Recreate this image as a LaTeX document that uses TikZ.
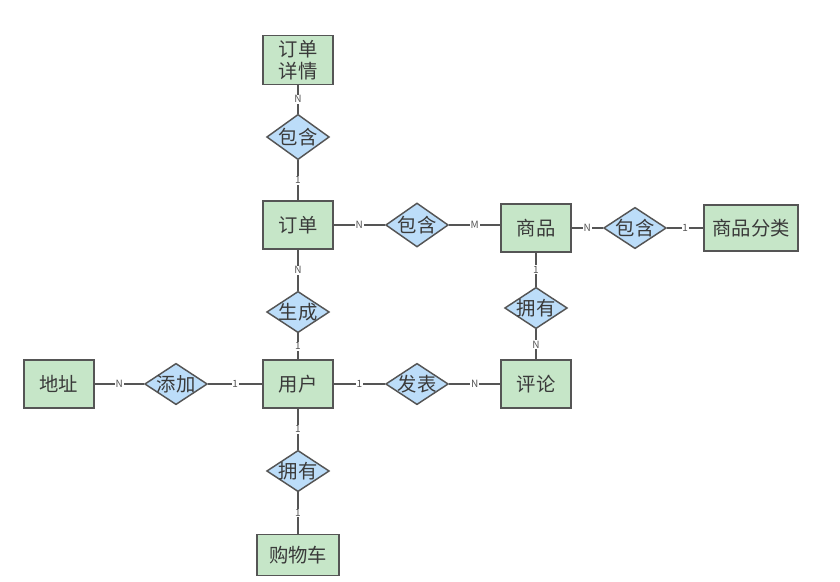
\documentclass[tikz,border=0pt]{standalone}
\usepackage{fontspec}
\setmainfont{Noto Sans CJK SC}
\usetikzlibrary{shapes.geometric}
\definecolor{entfill}{HTML}{C6E6C8}
\definecolor{relfill}{HTML}{BCDDF9}
\definecolor{edgegray}{HTML}{555555}
\definecolor{txtgray}{HTML}{3A3A3A}
\tikzset{
  entity/.style={draw=edgegray,line width=1.1pt,fill=entfill,rectangle,minimum width=52.5pt,minimum height=36pt,font=\fontsize{14.5}{16.5}\selectfont,text=txtgray,align=center},
  relation/.style={draw=edgegray,line width=1.1pt,fill=relfill,diamond,inner sep=-3pt,minimum width=47pt,minimum height=31pt,font=\fontsize{14.5}{16.5}\selectfont,text=txtgray},
  card/.style={fill=white,inner sep=0.6pt,font=\fontsize{7.5}{8}\selectfont,text=edgegray},
  link/.style={draw=edgegray,line width=1pt}
}
\begin{document}
\begin{tikzpicture}[x=0.75pt,y=-0.75pt]
        \useasboundingbox[fill=white] (0,0) rectangle (840,582);
        %% Entities
        \node[entity] (detail) at (298,60) {订单\\详情};
        \node[entity] (order) at (298,225) {订单};
        \node[entity] (goods) at (536,228) {商品};
        \node[entity,minimum width=70.5pt,minimum height=34.5pt] (category) at (751,228) {商品分类};
        \node[entity] (addr) at (59,384) {地址};
        \node[entity] (user) at (298,384) {用户};
        \node[entity] (comment) at (536,384) {评论};
        \node[entity,minimum width=61.5pt,minimum height=31pt] (cart) at (298,555) {购物车};
        %% Relations
        \node[relation,minimum height=34pt] (contain1) at (298,137) {包含};
        \node[relation,minimum height=33pt] (contain2) at (417,225) {包含};
        \node[relation] (contain3) at (635,228) {包含};
        \node[relation] (create) at (298,312) {生成};
        \node[relation] (own1) at (536,308) {拥有};
        \node[relation] (add) at (176,384) {添加};
        \node[relation] (post) at (417,384) {发表};
        \node[relation] (own2) at (298,471) {拥有};
        %% Links
        \draw[link] (detail) -- node[card] {N} (contain1);
        \draw[link] (contain1) -- node[card] {1} (order);
        \draw[link] (order) -- node[card] {N} (contain2);
        \draw[link] (contain2) -- node[card] {M} (goods.west |- contain2);
        \draw[link] (goods.east |- contain3) -- node[card] {N} (contain3);
        \draw[link] (contain3) -- node[card] {1} (category);
        \draw[link] (order) -- node[card] {N} (create);
        \draw[link] (create) -- node[card] {1} (user);
        \draw[link] (goods) -- node[card] {1} (own1);
        \draw[link] (own1) -- node[card] {N} (comment);
        \draw[link] (addr) -- node[card] {N} (add);
        \draw[link] (add) -- node[card] {1} (user);
        \draw[link] (user) -- node[card] {1} (post);
        \draw[link] (post) -- node[card] {N} (comment);
        \draw[link] (user) -- node[card] {1} (own2);
        \draw[link] (own2) -- node[card] {1} (cart);
\end{tikzpicture}
\end{document}
